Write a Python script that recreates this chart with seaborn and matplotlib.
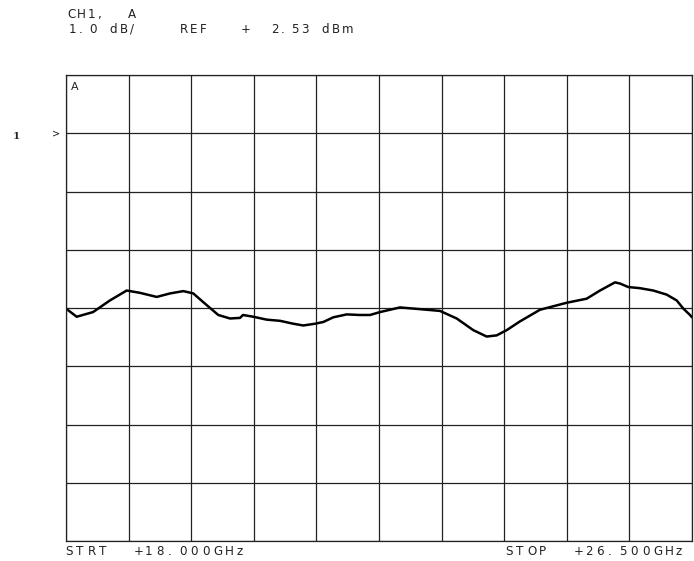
import numpy as np
import pandas as pd
import matplotlib
matplotlib.use("Agg")
import matplotlib.pyplot as plt
import seaborn as sns

# Swept frequency response, channel 1 (input A)
freq_ghz = [18.000, 18.145, 18.367, 18.597, 18.824, 19.005, 19.232, 19.412,
            19.593, 19.728, 19.910, 20.068, 20.227, 20.363, 20.403, 20.543,
            20.725, 20.906, 21.086, 21.222, 21.381, 21.494, 21.629, 21.811,
            21.992, 22.128, 22.264, 22.535, 22.807, 23.078, 23.305, 23.530,
            23.712, 23.848, 23.984, 24.164, 24.436, 24.617, 24.799, 25.070,
            25.251, 25.454, 25.522, 25.635, 25.794, 25.974, 26.156, 26.292,
            26.382, 26.473, 26.500]
level_dbm = [-0.48, -0.62, -0.54, -0.34, -0.17, -0.21, -0.28, -0.22,
             -0.18, -0.22, -0.42, -0.59, -0.65, -0.64, -0.59, -0.62,
             -0.67, -0.69, -0.74, -0.77, -0.74, -0.71, -0.63, -0.58,
             -0.59, -0.59, -0.54, -0.46, -0.49, -0.52, -0.65, -0.85,
             -0.96, -0.94, -0.85, -0.70, -0.50, -0.44, -0.38, -0.31,
             -0.17, -0.03, -0.05, -0.11, -0.13, -0.17, -0.24, -0.34,
             -0.48, -0.59, -0.63]

start_ghz = 18.0
stop_ghz = 26.5
ref_dbm = 2.53
scale_db = 1.0
n_xdiv = 10
n_ydiv = 8

header_1 = "CH1,  A"
header_2 = "1.0 dB/    REF   +  2.53 dBm"
start_label = "STRT  +18.000GHz"
stop_label = "STOP  +26.500GHz"

df = pd.DataFrame({"freq": freq_ghz, "level": level_dbm})

sns.set_style("white")
plt.rcParams["font.family"] = ["DejaVu Sans"]

W, H = 694, 561
fig = plt.figure(figsize=(W / 100, H / 100), dpi=100)
ax = fig.add_axes([66 / W, 20 / H, 626 / W, 466 / H])

top = ref_dbm + scale_db
bottom = top - n_ydiv * scale_db
ax.set_xlim(start_ghz, stop_ghz)
ax.set_ylim(bottom, top)

# graticule
ink = "#222222"
ax.set_xticks(np.linspace(start_ghz, stop_ghz, n_xdiv + 1))
ax.set_yticks(np.linspace(bottom, top, n_ydiv + 1))
ax.grid(True, color=ink, lw=0.9)
ax.tick_params(length=0, labelbottom=False, labelleft=False)
for s in ax.spines.values():
    s.set_color(ink)
    s.set_linewidth(0.9)

sns.lineplot(data=df, x="freq", y="level", ax=ax, color="black", lw=1.8)
ax.set_xlabel("")
ax.set_ylabel("")


def plotter_text(x0, baseline, text, pitch, size=8.6):
    """Fixed-pitch annotation in the style of a pen plotter."""
    for i, ch in enumerate(text):
        if ch != " ":
            fig.text((x0 + i * pitch) / W, 1 - baseline / H, ch, color=ink,
                     fontsize=size, ha="left", va="baseline")


plotter_text(67, 18, header_1, 10.1)
plotter_text(69, 33, header_2, 10.1)
plotter_text(65, 555, start_label, 11.4)
plotter_text(505, 555, stop_label, 11.4)

ax.text(0.008, 0.985, "A", transform=ax.transAxes, ha="left", va="top",
        color=ink, fontsize=8)
fig.text(13 / W, 1 - 139 / H, "1", color=ink, fontsize=7.5,
         fontfamily="DejaVu Serif", fontweight="bold", va="baseline")
fig.text(52 / W, 1 - 136 / H, ">", color=ink, fontsize=7, va="baseline")

fig.savefig("out.png", dpi=100, facecolor="white")
